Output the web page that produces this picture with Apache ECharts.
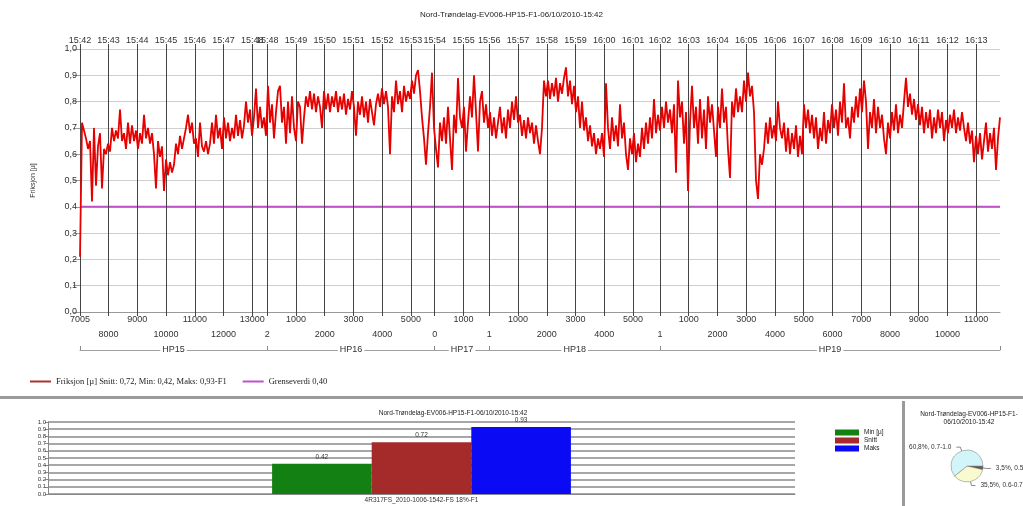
<!DOCTYPE html>
<html>
<head>
<meta charset="utf-8">
<script src="https://cdn.jsdelivr.net/npm/echarts@6.0.0/dist/echarts.min.js"></script>
<style>html,body{margin:0;padding:0;background:#fff}#c{width:1023px;height:506px}</style>
</head>
<body>
<div id="c"></div>
<script>
// ---- data ----
const titleText = 'Nord-Trøndelag-EV006-HP15-F1-06/10/2010-15:42';
// friction samples (evenly spaced along the run)
const friksjon = [
0.21,0.72,0.69,0.66,0.62, 0.65,0.42,0.70,0.48,0.63, 0.68,0.47,0.62,0.60,0.64, 0.61,0.70,0.65,0.69,0.66,
0.77,0.65,0.68,0.62,0.72, 0.64,0.71,0.65,0.69,0.62, 0.68,0.64,0.75,0.66,0.70, 0.64,0.68,0.60,0.47,0.65,
0.59,0.63,0.46,0.58,0.52, 0.57,0.53,0.56,0.64,0.60, 0.67,0.62,0.66,0.70,0.75, 0.68,0.72,0.64,0.66,0.59,
0.72,0.63,0.61,0.65,0.60, 0.64,0.72,0.64,0.75,0.66, 0.70,0.62,0.74,0.66,0.72, 0.65,0.70,0.66,0.75,0.67,
0.73,0.66,0.71,0.80,0.72, 0.77,0.67,0.74,0.85,0.70, 0.78,0.70,0.74,0.67,0.86, 0.72,0.79,0.66,0.76,0.84,
0.86,0.72,0.78,0.64,0.80, 0.68,0.82,0.70,0.65,0.80, 0.78,0.64,0.74,0.82,0.78, 0.84,0.77,0.83,0.76,0.82,
0.78,0.70,0.84,0.77,0.83, 0.76,0.82,0.78,0.84,0.76, 0.82,0.77,0.83,0.75,0.81, 0.77,0.84,0.78,0.67,0.80,
0.75,0.82,0.74,0.80,0.72, 0.81,0.76,0.71,0.79,0.83, 0.78,0.85,0.79,0.84,0.78, 0.60,0.82,0.76,0.88,0.79,
0.84,0.76,0.86,0.80,0.84, 0.81,0.88,0.83,0.90,0.92, 0.84,0.74,0.66,0.56,0.68, 0.78,0.91,0.70,0.62,0.55,
0.72,0.65,0.74,0.64,0.78, 0.66,0.54,0.75,0.68,0.89, 0.74,0.70,0.78,0.61,0.72, 0.82,0.74,0.90,0.76,0.61,
0.80,0.84,0.72,0.79,0.70, 0.76,0.67,0.74,0.66,0.72, 0.78,0.68,0.74,0.66,0.77, 0.70,0.80,0.73,0.82,0.72,
0.75,0.67,0.73,0.66,0.74, 0.68,0.72,0.64,0.71,0.65, 0.60,0.70,0.88,0.82,0.88, 0.81,0.87,0.82,0.89,0.80,
0.87,0.83,0.89,0.93,0.82, 0.88,0.79,0.86,0.76,0.82, 0.70,0.80,0.69,0.74,0.65, 0.71,0.63,0.68,0.60,0.66,
0.62,0.68,0.59,0.87,0.70, 0.62,0.74,0.65,0.71,0.63, 0.79,0.66,0.72,0.60,0.54, 0.66,0.60,0.68,0.57,0.64,
0.59,0.70,0.62,0.72,0.64, 0.74,0.66,0.81,0.68,0.75, 0.69,0.78,0.70,0.80,0.72, 0.77,0.68,0.79,0.53,0.88,
0.74,0.80,0.64,0.76,0.46, 0.72,0.86,0.70,0.78,0.64, 0.81,0.66,0.77,0.62,0.82, 0.72,0.79,0.69,0.59,0.78,
0.70,0.85,0.72,0.78,0.62, 0.51,0.80,0.74,0.85,0.76, 0.82,0.76,0.88,0.80,0.91, 0.82,0.86,0.76,0.50,0.43,
0.60,0.56,0.62,0.72,0.64, 0.74,0.66,0.71,0.65,0.80, 0.70,0.66,0.72,0.61,0.70, 0.60,0.68,0.62,0.71,0.59,
0.67,0.60,0.79,0.70,0.77, 0.68,0.75,0.66,0.74,0.62, 0.70,0.65,0.76,0.64,0.73, 0.68,0.79,0.70,0.77,0.67,
0.80,0.72,0.87,0.70,0.74, 0.66,0.78,0.72,0.82,0.74, 0.85,0.76,0.88,0.80,0.62, 0.76,0.70,0.81,0.68,0.78,
0.70,0.75,0.66,0.60,0.72, 0.66,0.76,0.69,0.79,0.68, 0.75,0.70,0.80,0.89,0.78, 0.83,0.75,0.81,0.73,0.79,
0.71,0.78,0.68,0.76,0.70, 0.77,0.66,0.74,0.68,0.77, 0.70,0.76,0.65,0.73,0.68, 0.75,0.70,0.77,0.68,0.74,
0.69,0.76,0.70,0.65,0.72, 0.64,0.69,0.57,0.67,0.60, 0.68,0.58,0.65,0.72,0.61, 0.68,0.62,0.70,0.54,0.66,
0.74
];
const grenseverdi = 0.40;
// cumulative distance (m) of each minute marker along the run
const markerPos = [0,995,1995,2995,3995,4995,5995,6515,7513,8513,9513,10513,11513,12343,13343,14243,
  15242,16242,17242,18242,19242,20182,21181,22181,23181,24181,25181,26181,27181,28181,29181,30181,31181];
const timeLabels = ['15:42','15:43','15:44','15:45','15:46','15:47','15:48','15:48','15:49','15:50','15:51','15:52','15:53','15:54','15:55','15:56',
  '15:57','15:58','15:59','16:00','16:01','16:02','16:03','16:04','16:05','16:06','16:07','16:08','16:09','16:10','16:11','16:12','16:13'];
const distLabels = ['7005','8000','9000','10000','11000','12000','13000','2','1000','2000','3000','4000','5000','0','1000','1',
  '1000','2000','3000','4000','5000','1','1000','2000','3000','4000','5000','6000','7000','8000','9000','10000','11000'];
const totalDist = 32011;
const sectionBounds = [0,6515,12343,14243,20182,32011];
const sectionNames = ['HP15','HP16','HP17','HP18','HP19'];
// summary
const barCategory = ['4R317FS_2010-1006-1542-FS 18%-F1'];
const barNames = ['Min [µ]','Snitt','Maks'];
const barValues = [0.42,0.72,0.93];
const pieNames = ['0.4-0.5','0.5-0.6','0.6-0.7','0.7-1.0'];
const pieValues = [0.2,3.5,35.5,60.8];

// ---- chart ----
const font = 'Liberation Sans, Arial, sans-serif';
const evenPos = markerPos.filter((_, i) => i % 2 === 0);
const oddPos = markerPos.filter((_, i) => i % 2 === 1);
const sectionMids = sectionNames.map((_, i) => (sectionBounds[i] + sectionBounds[i + 1]) / 2);
function lookup(arr, labels, v) {
  let best = 0, bd = Infinity;
  arr.forEach((p, i) => { const d = Math.abs(p - v); if (d < bd) { bd = d; best = i; } });
  return labels[best];
}
const chart = echarts.init(document.getElementById('c'), null, { renderer: 'canvas' });
const option = {
  animation: false,
  backgroundColor: '#fff',
  textStyle: { fontFamily: font },
  title: [
    { text: titleText, left: 'center', top: 6, textStyle: { fontSize: 8, fontWeight: 'normal', color: '#222' } },
    { text: titleText, left: 448, top: 405, textAlign: 'center', textStyle: { fontSize: 6.5, fontWeight: 'normal', color: '#222' } },
    { text: 'Nord-Trøndelag-EV006-HP15-F1-\n06/10/2010-15:42', left: 964, top: 405, textAlign: 'center',
      textStyle: { fontSize: 6.5, fontWeight: 'normal', color: '#222', lineHeight: 8 } }
  ],
  legend: [
    { left: 25, top: 372, itemWidth: 21, itemHeight: 2, itemGap: 16, icon: 'rect',
      textStyle: { fontFamily: 'Liberation Serif, Times New Roman, serif', fontSize: 8.5, color: '#222' },
      data: [
        { name: 'Friksjon [µ] Snitt: 0,72, Min: 0,42, Maks: 0,93-F1', itemStyle: { color: '#a83232' } },
        { name: 'Grenseverdi 0,40', itemStyle: { color: '#c050c8' } }
      ] },
    { left: 830, top: 424, orient: 'vertical', itemWidth: 24, itemHeight: 6, itemGap: 1, icon: 'rect',
      textStyle: { fontSize: 6.5, color: '#222' }, data: barNames }
  ],
  graphic: [
    { type: 'rect', shape: { x: 0, y: 396, width: 1023, height: 3 }, style: { fill: '#9a9a9a' } },
    { type: 'rect', shape: { x: 902, y: 401, width: 3, height: 105 }, style: { fill: '#9a9a9a' } }
  ],
  grid: [
    { left: 80, right: 23, top: 49, bottom: 194 },
    { left: 48, right: 228, top: 422, bottom: 12 }
  ],
  xAxis: [
    { type: 'category', gridIndex: 0, data: friksjon.map((_, i) => i), boundaryGap: false, show: false },
    { type: 'value', gridIndex: 0, position: 'top', min: 0, max: totalDist,
      axisLine: { show: false }, splitLine: { show: false },
      axisTick: { show: true, customValues: markerPos, length: 5, lineStyle: { color: '#444' } },
      axisLabel: { customValues: markerPos, fontSize: 9, color: '#333', margin: 4,
        formatter: v => lookup(markerPos, timeLabels, v) } },
    { type: 'value', gridIndex: 0, position: 'bottom', min: 0, max: totalDist,
      axisLine: { show: true, lineStyle: { color: '#999' } }, splitLine: { show: false },
      axisTick: { show: true, customValues: markerPos, length: 4, lineStyle: { color: '#444' } },
      axisLabel: { customValues: evenPos, fontSize: 9, color: '#333', margin: 3,
        formatter: v => lookup(markerPos, distLabels, v) } },
    { type: 'value', gridIndex: 0, position: 'bottom', offset: 15, min: 0, max: totalDist,
      axisLine: { show: false }, splitLine: { show: false }, axisTick: { show: false },
      axisLabel: { customValues: oddPos, fontSize: 9, color: '#333', margin: 3,
        formatter: v => lookup(markerPos, distLabels, v) } },
    { type: 'value', gridIndex: 0, position: 'bottom', offset: 38, min: 0, max: totalDist,
      axisLine: { show: true, lineStyle: { color: '#a0a0a0' } }, splitLine: { show: false },
      axisTick: { show: true, inside: true, customValues: sectionBounds, length: 4, lineStyle: { color: '#888' } },
      axisLabel: { customValues: sectionMids, fontSize: 9, color: '#333', margin: -5,
        backgroundColor: '#fff', padding: [0, 2],
        formatter: v => lookup(sectionMids, sectionNames, v) } },
    { type: 'category', gridIndex: 1, data: barCategory,
      axisLine: { lineStyle: { color: '#888' } }, axisTick: { show: false },
      splitLine: { show: false },
      axisLabel: { fontSize: 6.5, color: '#333', margin: 3 } }
  ],
  yAxis: [
    { type: 'value', gridIndex: 0, min: 0, max: 1, interval: 0.1,
      name: 'Friksjon [µ]', nameLocation: 'middle', nameGap: 43, nameRotate: 90,
      nameTextStyle: { fontSize: 7, color: '#333' },
      axisLine: { show: false },
      axisTick: { show: true, length: 7, lineStyle: { color: '#999' } },
      axisLabel: { fontSize: 9, color: '#333', margin: 3, formatter: v => v.toFixed(1).replace('.', ',') },
      splitLine: { lineStyle: { color: '#cfcfcf' } } },
    { type: 'value', gridIndex: 1, min: 0, max: 1, interval: 0.1,
      axisLine: { show: true, lineStyle: { color: '#888' } },
      axisTick: { show: true, length: 3, lineStyle: { color: '#888' } },
      axisLabel: { fontSize: 6, color: '#333', margin: 2, formatter: v => v.toFixed(1) },
      splitLine: { lineStyle: { color: '#8a8a8a', width: 1.5 } } }
  ],
  series: [
    { name: 'Friksjon [µ] Snitt: 0,72, Min: 0,42, Maks: 0,93-F1', type: 'line', xAxisIndex: 0, yAxisIndex: 0,
      data: friksjon, showSymbol: false, symbol: 'none', z: 5,
      lineStyle: { color: '#e60000', width: 1.8 }, itemStyle: { color: '#e60000' } },
    { name: 'Grenseverdi 0,40', type: 'line', xAxisIndex: 1, yAxisIndex: 0,
      data: [[0, grenseverdi], [totalDist, grenseverdi]], symbol: 'none', z: 4,
      lineStyle: { color: '#c050c8', width: 2 }, itemStyle: { color: '#c050c8' } },
    { name: 'markers', type: 'line', xAxisIndex: 1, yAxisIndex: 0, data: [], z: 3,
      markLine: { silent: true, symbol: ['none', 'none'], label: { show: false },
        lineStyle: { color: '#444', width: 1, type: 'solid' },
        data: markerPos.map(p => ({ xAxis: p })) } },
    ...barNames.map((n, i) => ({
      name: n, type: 'bar', xAxisIndex: 5, yAxisIndex: 1, data: [barValues[i]],
      barGap: '0%', barCategoryGap: '60%',
      itemStyle: { color: ['#128012', '#a52a2a', '#0a0af5'][i] },
      label: { show: true, position: 'top', fontSize: 6.5, color: '#333', distance: 3,
        formatter: p => p.value.toFixed(2) }
    })),
    { type: 'pie', center: [967, 466], radius: 16, startAngle: 0, clockwise: true,
      avoidLabelOverlap: false,
      data: pieNames.map((n, i) => ({ name: n, value: pieValues[i] })),
      itemStyle: { borderColor: '#777', borderWidth: 0.5 },
      color: ['#4a2a2a', '#6a5050', '#fafad0', '#d2f5fa'],
      label: { fontSize: 6.5, color: '#333', formatter: p => p.value.toFixed(1).replace('.', ',') + '%, ' + p.name },
      labelLine: { length: 4, length2: 4, lineStyle: { color: '#888' } } }
  ]
};
chart.setOption(option);
</script>
</body>
</html>
